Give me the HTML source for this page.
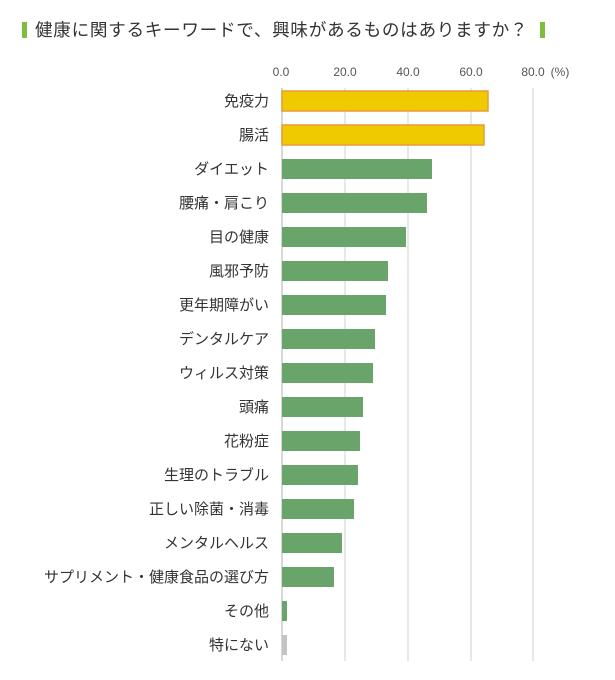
<!DOCTYPE html>
<html><head><meta charset="utf-8"><style>
body{margin:0;background:#fff;width:615px;height:680px;overflow:hidden;font-family:"Liberation Sans","Noto Sans CJK JP",sans-serif;color:#333}
.t{position:absolute;left:35px;top:17px;font-size:17.6px;letter-spacing:0.7px;white-space:nowrap;color:#333}
.m{position:absolute;width:5px;height:16px;background:#7dbe3c;top:22px}
</style></head><body>
<div class="m" style="left:22px"></div>
<div class="t">健康に関するキーワードで、興味があるものはありますか？</div>
<div class="m" style="left:540px"></div>
<svg width="615" height="680" style="position:absolute;left:0;top:0" font-family="Liberation Sans, Noto Sans CJK JP, sans-serif">
<g stroke="#e0e0e0" stroke-width="1.5">
<line x1="345" y1="88" x2="345" y2="661"/><line x1="408" y1="88" x2="408" y2="661"/><line x1="471" y1="88" x2="471" y2="661"/><line x1="533" y1="88" x2="533" y2="661"/>
</g>
<line x1="282" y1="88" x2="282" y2="661" stroke="#ccc" stroke-width="1.5"/>
<g font-size="12" fill="#555" text-anchor="middle">
<text x="281" y="76">0.0</text><text x="345" y="76">20.0</text><text x="408" y="76">40.0</text><text x="471" y="76">60.0</text><text x="533" y="76">80.0</text><text x="560" y="76">(%)</text>
</g>
<rect x="282" y="91" width="206" height="20" fill="#efca00" stroke="#eb9a3a" stroke-width="1.5"/>
<rect x="282" y="125" width="202" height="20" fill="#efca00" stroke="#eb9a3a" stroke-width="1.5"/>
<g fill="#69a56a">
<rect x="282" y="159" width="150" height="20"/>
<rect x="282" y="193" width="145" height="20"/>
<rect x="282" y="227" width="124" height="20"/>
<rect x="282" y="261" width="106" height="20"/>
<rect x="282" y="295" width="104" height="20"/>
<rect x="282" y="329" width="93" height="20"/>
<rect x="282" y="363" width="91" height="20"/>
<rect x="282" y="397" width="81" height="20"/>
<rect x="282" y="431" width="78" height="20"/>
<rect x="282" y="465" width="76" height="20"/>
<rect x="282" y="499" width="72" height="20"/>
<rect x="282" y="533" width="60" height="20"/>
<rect x="282" y="567" width="52" height="20"/>
<rect x="282" y="601" width="5" height="20"/>
</g>
<rect x="282" y="635" width="5" height="20" fill="#c4c4c4"/>
<g font-size="15" fill="#333" text-anchor="end">
<text x="269" y="106">免疫力</text>
<text x="269" y="140">腸活</text>
<text x="269" y="174">ダイエット</text>
<text x="269" y="208">腰痛・肩こり</text>
<text x="269" y="242">目の健康</text>
<text x="269" y="276">風邪予防</text>
<text x="269" y="310">更年期障がい</text>
<text x="269" y="344">デンタルケア</text>
<text x="269" y="378">ウィルス対策</text>
<text x="269" y="412">頭痛</text>
<text x="269" y="446">花粉症</text>
<text x="269" y="480">生理のトラブル</text>
<text x="269" y="514">正しい除菌・消毒</text>
<text x="269" y="548">メンタルヘルス</text>
<text x="269" y="582">サプリメント・健康食品の選び方</text>
<text x="269" y="616">その他</text>
<text x="269" y="650">特にない</text>
</g>
</svg>
</body></html>
